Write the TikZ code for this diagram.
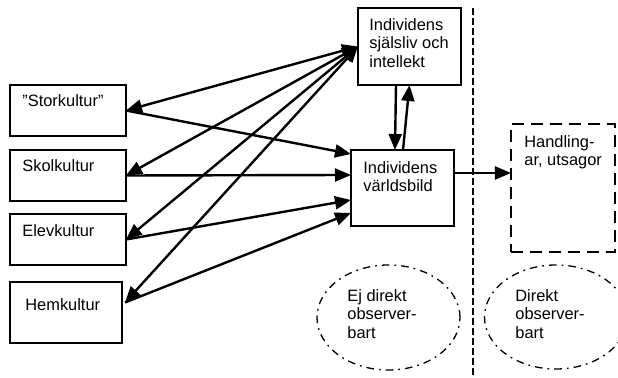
\documentclass[tikz,border=0pt]{standalone}
\usepackage{fontspec}
\setmainfont{Liberation Sans}
\usetikzlibrary{arrows.meta,calc}
\begin{document}
\begin{tikzpicture}[x=0.5pt, y=-0.5pt,
  font=\fontsize{8.2}{9.2}\selectfont,
  box/.style={draw, line width=0.6pt, anchor=north west, inner sep=0pt, outer sep=0pt},
  txt/.style={anchor=north west, align=left, inner sep=0pt},
  arr/.style={line width=1.2pt, -{Triangle[length=8pt,width=6.5pt]}},
  both/.style={line width=1.2pt, {Triangle[length=8pt,width=6.5pt]}-{Triangle[length=8pt,width=6.5pt]}},
  dashdot/.style={line width=0.65pt, dash pattern=on 3.8pt off 2.5pt on 0.9pt off 2.5pt}]
\useasboundingbox (0,0) rectangle (618,378);
\node[box, minimum width=58pt, minimum height=25.5pt] (stor) at (10,85) {};
\node[box, minimum width=58pt, minimum height=25.5pt] (skol) at (10,150) {};
\node[box, minimum width=58pt, minimum height=25.5pt] (elev) at (10,214) {};
\node[box, minimum width=56pt, minimum height=30.5pt] (hem) at (10,282) {};
\node[box, minimum width=51.5pt, minimum height=38.5pt] (sjal) at (358,8) {};
\node[box, minimum width=51.5pt, minimum height=38pt] (varld) at (351,150) {};
\node[box, line width=1.3pt, dash pattern=on 6pt off 3.5pt,
  minimum width=52pt, minimum height=64pt] (handl) at (511,124) {};
\node[txt] (stor-t) at (22,94) {”Storkultur”};
\node[txt] (skol-t) at (22,159) {Skolkultur};
\node[txt] (elev-t) at (22,224) {Elevkultur};
\node[txt] (hem-t) at (25,298) {Hemkultur};
\node[txt] (sjal-t) at (369,18) {Individens\\själsliv och\\intellekt};
\node[txt] (varld-t) at (363,161) {Individens\\världsbild};
\node[txt] (handl-t) at (524,135) {Handling-\\ar, utsagor};
\draw[dashdot] (388.5,317.5) ellipse [x radius=35.75pt, y radius=26.25pt];
\draw[dashdot] (556,317) ellipse [x radius=35.75pt, y radius=26pt];
\node[txt] (ej-t) at (347,289) {Ej direkt\\observer-\\bart};
\node[txt] (dir-t) at (515,289) {Direkt\\observer-\\bart};
\coordinate (div-top) at (473,8);
\coordinate (div-bot) at (473,378);
\draw[line width=0.7pt, dash pattern=on 3.3pt off 1.7pt] (div-top) -- (div-bot);
\coordinate (hem-e) at ($(hem.east)+(3,-10)$);
\foreach \b in {stor,skol,elev,hem-e}
  \draw[both] (\b.east) -- (sjal.west);
\draw[arr] (stor.east) -- ($(varld.north west)+(0,4)$);
\draw[arr] (skol.east) -- ($(varld.north west)+(0,25)$);
\draw[arr] (elev.east) -- ($(varld.north west)+(0,50)$);
\draw[arr] (hem-e) -- ($(varld.north west)+(0,63)$);
\draw[arr] ($(sjal.south)+(-13.5,0)$) -- ($(varld.north)+(-7.5,0)$);
\draw[arr] ($(varld.north)+(0.5,0)$) -- (sjal.south);
\draw[arr] ($(varld.north east)+(0,23)$) -- ($(handl.north west)+(0,49)$);
\end{tikzpicture}
\end{document}
